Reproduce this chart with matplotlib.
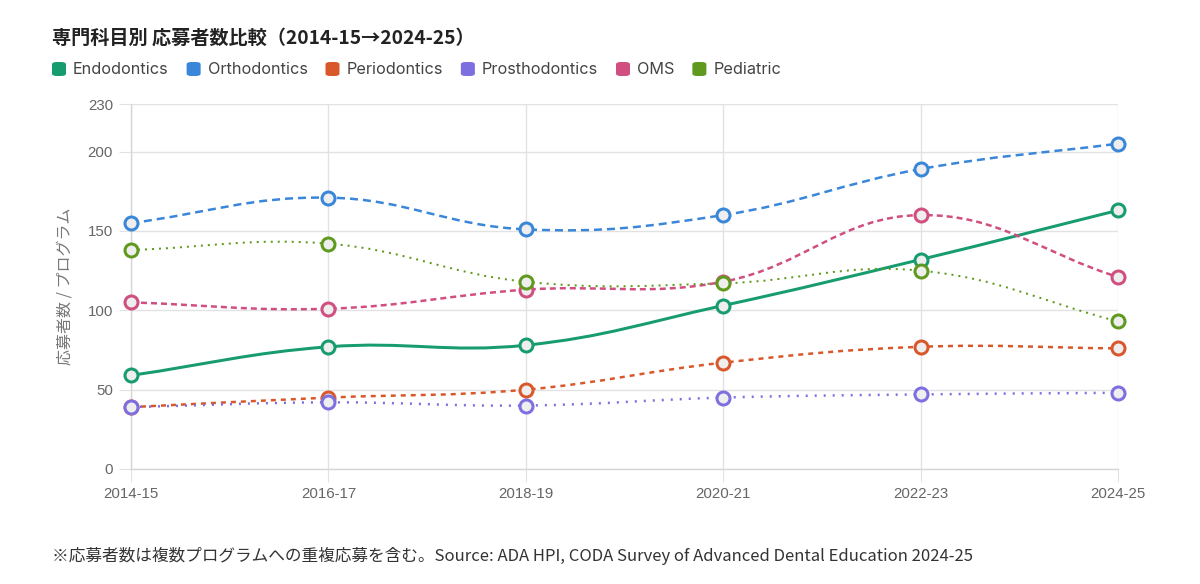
import numpy as np
import matplotlib
matplotlib.use("Agg")
from matplotlib import pyplot as plt
from matplotlib.path import Path
from matplotlib.patches import PathPatch, FancyBboxPatch

plt.rcParams['font.family'] = ['Inter', 'Noto Sans CJK JP', 'DejaVu Sans']
plt.rcParams['lines.scale_dashes'] = False

years = ['2014-15', '2016-17', '2018-19', '2020-21', '2022-23', '2024-25']
endo = [59, 77, 78, 103, 132, 163]
ortho = [155, 171, 151, 160, 189, 205]
perio = [39, 45, 50, 67, 77, 76]
prostho = [39, 42, 40, 45, 47, 48]
oms = [105, 101, 113, 118, 160, 121]
pedia = [138, 142, 118, 117, 125, 93]

# name, values, colour, line width (px), dash pattern (px) or None
series = [
    ('Endodontics', endo, '#179c70', 3.0, None),
    ('Orthodontics', ortho, '#3a86d8', 2.5, (8, 5)),
    ('Periodontics', perio, '#d9582b', 2.5, (5, 5)),
    ('Prosthodontics', prostho, '#7d6fe0', 2.5, (2, 7)),
    ('OMS', oms, '#d04f80', 2.5, (6, 4)),
    ('Pediatric', pedia, '#5f9a1e', 2.0, (2, 5)),
]

W, H = 1200, 584
fig = plt.figure(figsize=(W / 100, H / 100), dpi=100)
px = 0.72  # points per pixel

L, R, T, B = 131, 1118, 104, 469
ax = fig.add_axes([L / W, 1 - B / H, (R - L) / W, (B - T) / H])
ax.set_xlim(0, len(years) - 1)
ax.set_ylim(0, 230)
ax.set_xticks(range(len(years)))
ax.set_xticklabels(years)
ax.set_yticks([0, 50, 100, 150, 200, 230])
ax.grid(True, color='#e2e2e2', linewidth=1.0)
ax.set_axisbelow(True)
for s in ['top', 'right']:
    ax.spines[s].set_visible(False)
for s in ['left', 'bottom']:
    ax.spines[s].set_color('#d6d6d6')
    ax.spines[s].set_linewidth(1.0)
ax.tick_params(length=9, color='#e2e2e2', labelcolor='#666666', labelsize=10.8, pad=4)
for lab in ax.get_xticklabels() + ax.get_yticklabels():
    lab.set_family(['Liberation Sans', 'DejaVu Sans'])
ax.set_ylabel('応募者数 / プログラム', fontsize=11.5, color='#777777',
              family=['Noto Sans CJK JP'], labelpad=10)


def spline_path(xs, ys, t=0.4):
    pts = ax.transData.transform(np.column_stack([xs, ys]))
    n = len(pts)
    cin, cout = [], []
    for i in range(n):
        cur = pts[i]
        prev = pts[i - 1] if i > 0 else cur
        nxt = pts[i + 1] if i < n - 1 else cur
        d01 = np.hypot(*(cur - prev))
        d12 = np.hypot(*(nxt - cur))
        tot = d01 + d12
        s01 = d01 / tot if tot else 0
        s12 = d12 / tot if tot else 0
        cin.append(cur - t * s01 * (nxt - prev))
        cout.append(cur + t * s12 * (nxt - prev))
    verts = [pts[0]]
    codes = [Path.MOVETO]
    for i in range(n - 1):
        verts += [cout[i], cin[i + 1], pts[i + 1]]
        codes += [Path.CURVE4] * 3
    verts = ax.transData.inverted().transform(np.array(verts))
    return Path(verts, codes)


x = np.arange(len(years))
for name, vals, col, lw, dash in series:
    ls = '-' if dash is None else (0, (dash[0] * px, dash[1] * px))
    patch = PathPatch(spline_path(x, vals), facecolor='none', edgecolor=col,
                      linewidth=lw * px, linestyle=ls, capstyle='butt', zorder=3)
    ax.add_patch(patch)
    ax.plot(x, vals, linestyle='none', marker='o', markersize=13 * px,
            markerfacecolor='#eeeeee', markeredgecolor=col,
            markeredgewidth=3 * px, zorder=4, clip_on=False)

# title
fig.text(52 / W, 1 - 38 / H, '専門科目別 応募者数比較（2014-15→2024-25）',
         fontsize=13.8, fontweight='bold', color='#222222', va='center',
         family=['Noto Sans CJK JP'])

# legend row
fig.canvas.draw()
renderer = fig.canvas.get_renderer()
xpos = 52
ly = 69
for name, vals, col, lw, dash in series:
    sq = FancyBboxPatch(((xpos) / W, 1 - (ly + 7) / H), 14 / W, 14 / H,
                        boxstyle='round,pad=0,rounding_size=0.004',
                        transform=fig.transFigure, facecolor=col,
                        edgecolor='none', figure=fig)
    fig.patches.append(sq)
    txt = fig.text((xpos + 21) / W, 1 - ly / H, name, fontsize=11.7,
                   color='#444444', va='center')
    bb = txt.get_window_extent(renderer)
    xpos = bb.x1 + 18

# footnote
fig.text(52 / W, 1 - 556 / H,
         '※応募者数は複数プログラムへの重複応募を含む。Source: ADA HPI, CODA Survey of Advanced Dental Education 2024-25',
         fontsize=12, color='#333333', va='center', family=['Noto Sans CJK JP'])

fig.savefig('out.png', dpi=100, facecolor='white')
